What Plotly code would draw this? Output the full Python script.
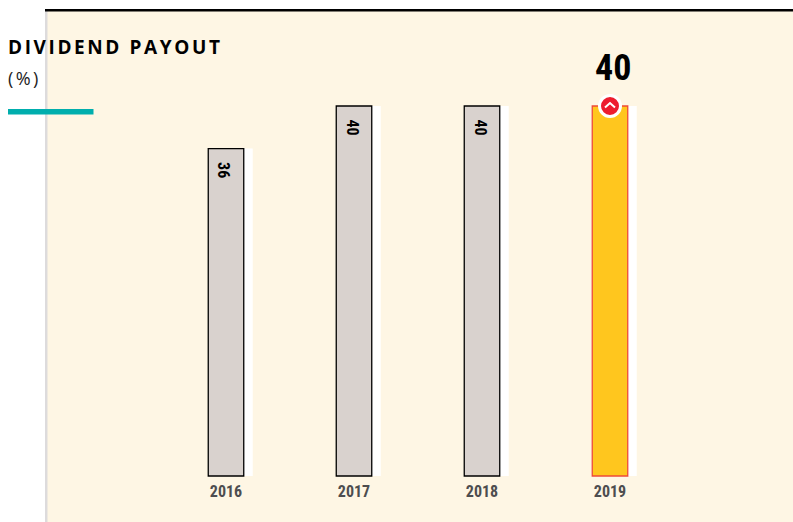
import plotly.graph_objects as go

W, H = 793, 522
years = [2016, 2017, 2018, 2019]
bar_values = [35.4, 40, 40, 40]
bar_labels = ["36", "40", "40", ""]
headline_value = "40"
fills = ["#D9D2CE", "#D9D2CE", "#D9D2CE", "#FFC61E"]
edges = ["#000000", "#000000", "#000000", "#EE4B3A"]

PX_PER_YEAR = 128
PX_PER_UNIT = 9.25
X0_PX, Y0_PX = 226, 476
xr = [2016 - X0_PX / PX_PER_YEAR, 2016 + (W - X0_PX) / PX_PER_YEAR]
yr = [-(H - Y0_PX) / PX_PER_UNIT, Y0_PX / PX_PER_UNIT]
bw = 35.5 / PX_PER_YEAR

def px(x):
    return x / W
def py(y):
    return 1 - y / H

NARROW = "Liberation Sans Narrow, Roboto Condensed, Liberation Sans, sans-serif"
OPEN = "Open Sans, sans-serif"

fig = go.Figure()
# white offset shadow
fig.add_bar(x=years, y=bar_values, width=bw, offset=-bw / 2 + 9 / PX_PER_YEAR,
            marker=dict(color="#FFFFFF", line=dict(width=0)), hoverinfo="skip")
# main bars
fig.add_bar(x=years, y=bar_values, width=bw, offset=-bw / 2,
            marker=dict(color=fills, line=dict(color=edges, width=1.3)))
# badge at the highlighted bar
fig.add_scatter(x=years[-1:], y=bar_values[-1:], mode="markers",
                marker=dict(symbol="circle", size=21, color="#ED1C2E",
                            line=dict(color="#FFFFFF", width=3)), hoverinfo="skip")

labels = [
    dict(text=t, x=x, y=v, xref="x", yref="y", yanchor="top", yshift=-11.5, xshift=-2, textangle=90,
         showarrow=False, font=dict(family=NARROW, size=16, color="#000000", weight="bold"))
    for x, v, t in zip(years, bar_values, bar_labels) if t
]

fig.update_layout(
    width=W, height=H, margin=dict(l=0, r=0, t=0, b=0), autosize=False,
    paper_bgcolor="#FFFFFF", plot_bgcolor="rgba(0,0,0,0)",
    barmode="overlay", showlegend=False,
    xaxis=dict(range=xr, tickmode="array", tickvals=years, ticktext=[str(y) for y in years],
               showgrid=False, zeroline=False, showline=False, ticks="",
               anchor="free", position=py(Y0_PX), ticklabelstandoff=4,
               tickfont=dict(family=NARROW, size=16, color="#4D4D4F", weight="bold")),
    yaxis=dict(range=yr, visible=False, showgrid=False, zeroline=False),
    shapes=[
        dict(type="rect", xref="paper", yref="paper", x0=px(45), x1=1, y0=0, y1=py(9),
             fillcolor="#FEF6E4", line_width=0, layer="below"),
        dict(type="rect", xref="paper", yref="paper", x0=px(45), x1=px(47.5), y0=0, y1=py(9),
             fillcolor="#DDDBDC", line_width=0, layer="below"),
        dict(type="rect", xref="paper", yref="paper", x0=px(45), x1=1, y0=py(11.5), y1=py(9),
             fillcolor="#000000", line_width=0, layer="below"),
        dict(type="rect", xref="paper", yref="paper", x0=px(8), x1=px(93.5), y0=py(114.5), y1=py(109),
             fillcolor="#00AEAD", line_width=0, layer="above"),
        dict(type="path", xsizemode="pixel", ysizemode="pixel",
             xanchor=years[-1], yanchor=bar_values[-1], xref="x", yref="y",
             path="M -5 -1.5 L 0 3 L 5 -1.5", line=dict(color="#FFFFFF", width=2), layer="above"),
    ],
    annotations=[
        dict(text="DIVIDEND PAYOUT", xref="paper", yref="paper", x=px(6), y=py(47),
             xanchor="left", yanchor="middle", showarrow=False, align="left",
             font=dict(family=OPEN, size=19, color="#000000", weight="bold")),
        dict(text="(%)", xref="paper", yref="paper", x=px(6), y=py(78),
             xanchor="left", yanchor="middle", showarrow=False, align="left",
             font=dict(family=OPEN, size=18, color="#222222")),
        dict(text=headline_value, x=years[-1], y=bar_values[-1], xref="x", yref="y",
             yshift=38, xshift=3, showarrow=False,
             font=dict(family=NARROW, size=36, color="#000000", weight="bold")),
    ] + labels,
)

fig.write_html("out.html", config=dict(displayModeBar=False), post_script="""
document.body.style.margin = '0';
document.documentElement.style.overflow = 'hidden';
var a = document.querySelectorAll('.annotation-text');
if (a.length > 1) { a[0].style.letterSpacing = '2.6px'; a[1].style.letterSpacing = '2.4px'; }
""")
